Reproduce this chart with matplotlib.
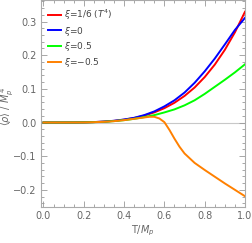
import numpy as np
import matplotlib.pyplot as plt
from matplotlib.ticker import MultipleLocator

# T / M_p grid for the three smooth curves
T = [0.0, 0.05, 0.1, 0.15, 0.2, 0.25, 0.3, 0.35, 0.4, 0.45, 0.5,
     0.55, 0.6, 0.65, 0.7, 0.75, 0.8, 0.85, 0.9, 0.95, 1.0]

# xi = 1/6 (pure T^4)
rho_sixth = [0.0, 0.0, 0.00003, 0.00017, 0.0005, 0.0013, 0.0027, 0.0049, 0.0084, 0.0135, 0.0206,
             0.0301, 0.0426, 0.0587, 0.079, 0.104, 0.135, 0.172, 0.216, 0.268, 0.329]
# xi = 0
rho_zero = [0.0, 0.0, 0.00003, 0.00017, 0.0005, 0.0013, 0.0028, 0.0052, 0.009, 0.014, 0.022,
            0.033, 0.048, 0.066, 0.089, 0.118, 0.152, 0.19, 0.232, 0.275, 0.311]
# xi = 0.5
rho_half = [0.0, 0.0, 0.00003, 0.00015, 0.0004, 0.001, 0.0022, 0.0042, 0.007, 0.011, 0.016,
            0.022, 0.030, 0.039, 0.051, 0.066, 0.085, 0.106, 0.127, 0.149, 0.173]

# xi = -0.5 has a sharp turn, so a finer grid around it
T_neg = [0.0, 0.1, 0.2, 0.25, 0.3, 0.35, 0.4, 0.45, 0.5, 0.525, 0.55, 0.575,
         0.6, 0.625, 0.65, 0.675, 0.7, 0.75, 0.8, 0.85, 0.9, 0.95, 1.0]
rho_neg = [0.0, 0.0, 0.0003, 0.001, 0.002, 0.004, 0.007, 0.011, 0.015, 0.017, 0.017, 0.012,
           0.001, -0.022, -0.048, -0.072, -0.092, -0.12, -0.141, -0.161, -0.181, -0.2, -0.219]

labels = [r'$\xi$=1/6 ($T^4$)', r'$\xi$=0', r'$\xi$=0.5', r'$\xi$=$-$0.5']

plt.rcParams['mathtext.fontset'] = 'dejavusans'
fig = plt.figure(figsize=(2.52, 2.43), dpi=100)
ax = fig.add_axes([41/252, 1-207/243, 204/252, 206.5/243])

ax.axhline(0, color='#c8c8c8', lw=0.8, zorder=1)
ax.plot(T, rho_sixth, color=(1, 0, 0), lw=1.4, label=labels[0])
ax.plot(T, rho_zero, color=(0, 0, 1), lw=1.4, label=labels[1])
ax.plot(T, rho_half, color=(0, 1, 0), lw=1.4, label=labels[2])
ax.plot(T_neg, rho_neg, color=(1, 0.5, 0), lw=1.4, label=labels[3])

ax.set_xlim(-0.0124, 1.0)
ax.set_ylim(-0.251, 0.3625)

ax.xaxis.set_major_locator(MultipleLocator(0.2))
ax.xaxis.set_minor_locator(MultipleLocator(0.05))
ax.yaxis.set_major_locator(MultipleLocator(0.1))
ax.yaxis.set_minor_locator(MultipleLocator(0.02))
ax.tick_params(which='both', direction='in', top=True, right=True,
               color='#999999', labelcolor='#666666', labelsize=7, width=0.6)
ax.tick_params(which='major', length=4, pad=3)
ax.tick_params(which='minor', length=2)
fmt = plt.FuncFormatter(lambda v, p: f'{v:.1f}'.replace('-', '\u2212'))
ax.xaxis.set_major_formatter(fmt)
ax.yaxis.set_major_formatter(fmt)
for s in ax.spines.values():
    s.set_color('#aaaaaa')
    s.set_linewidth(0.8)

ax.set_xlabel(r'T/$M_p$', fontsize=7, color='#666666')
ax.xaxis.set_label_coords(0.5, -(224 - 207) / 206.5)
ax.set_ylabel(r'$\langle\rho\rangle$ / $M_p^{\,4}$', fontsize=7, color='#666666')
ax.yaxis.set_label_coords(-(41 - 16) / 204, 0.49)

leg = ax.legend(loc='upper left', frameon=False, fontsize=6.5, handlelength=1.45,
                handletextpad=0.35, labelspacing=0.32, borderaxespad=0.35)
for t in leg.get_texts():
    t.set_color('#444444')

fig.savefig('out.png', dpi=100)
